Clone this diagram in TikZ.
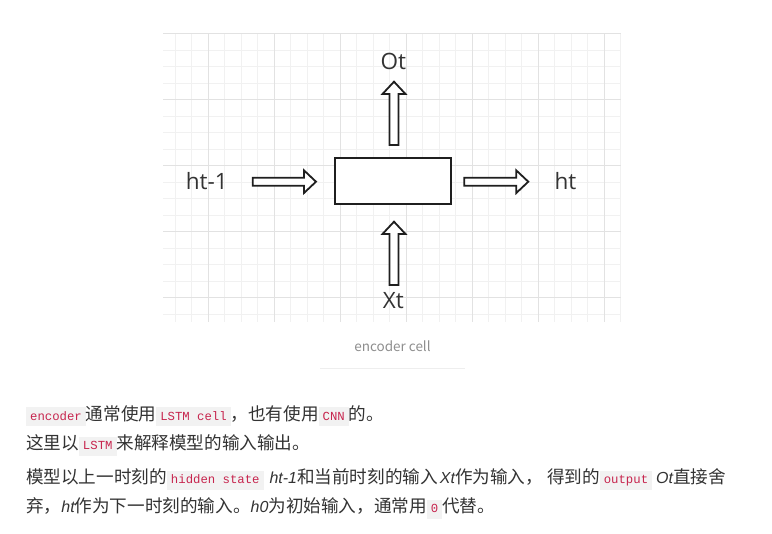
\documentclass[tikz,border=0pt]{standalone}
\usepackage{fontspec}
\setmainfont{Noto Sans CJK SC}
\newfontfamily\labf{Open Sans}
\newfontfamily\itf{Liberation Sans}
\newfontfamily\codef{Liberation Mono}
\usetikzlibrary{calc}
\definecolor{txt}{HTML}{333333}
\definecolor{codefg}{HTML}{C7254E}
\definecolor{codebg}{HTML}{F2F2F2}
\definecolor{gridminor}{HTML}{F1F1F1}
\definecolor{gridmajor}{HTML}{E2E2E2}
\definecolor{capgray}{HTML}{8E8E8E}
\definecolor{sepgray}{HTML}{EEEEEE}
\newcommand\inlinecode[1]{{\setlength\fboxsep{0pt}\colorbox{codebg}{\rule[-6.2pt]{0pt}{19.2pt}\hspace{4pt}\textcolor{codefg}{\codef\fontsize{12.3pt}{14pt}\selectfont #1}\hspace{4pt}}}}
\newcommand\itx[1]{{\itf\itshape\fontsize{16pt}{18pt}\selectfont #1}}
\newcommand\harr[2]{\draw[blockarr] ([yshift=4pt]#1) -- ([xshift=-12pt,yshift=4pt]#2) -- ([xshift=-12pt,yshift=11.3pt]#2) -- (#2) -- ([xshift=-12pt,yshift=-11.3pt]#2) -- ([xshift=-12pt,yshift=-4pt]#2) -- ([yshift=-4pt]#1) -- cycle;}
\newcommand\varr[2]{\draw[blockarr] ([xshift=-4.5pt]#1) -- ([xshift=-4.5pt,yshift=-12.3pt]#2) -- ([xshift=-11.5pt,yshift=-12.3pt]#2) -- (#2) -- ([xshift=11.5pt,yshift=-12.3pt]#2) -- ([xshift=4.5pt,yshift=-12.3pt]#2) -- ([xshift=4.5pt]#1) -- cycle;}
\tikzset{
  blockarr/.style={draw=black!88, line width=1.8pt, fill=white, line join=miter},
  cellbox/.style={draw=black!88, line width=1.9pt, fill=white, minimum width=116pt, minimum height=46.6pt, inner sep=0pt},
  lab/.style={font=\labf\fontsize{22.5pt}{25pt}\selectfont, text=txt, inner sep=0pt},
  txtline/.style={anchor=base west, inner sep=0pt, text=txt, font=\fontsize{17.6pt}{20pt}\selectfont},
  minorline/.style={draw=gridminor, line width=1pt},
  majorline/.style={draw=gridmajor, line width=1pt},
}
\begin{document}
\begin{tikzpicture}[x=1pt,y=-1pt]
\useasboundingbox (0,0) rectangle (772,534);
\fill[white] (0,0) rectangle (772,534);
% grid
\begin{scope}
\clip (163,34) rectangle (621,322);
\foreach \k in {-2,...,25} { \draw[minorline] ({208.3+16.5*\k},34) -- ++(0,288); }
\foreach \k in {-4,...,13} { \draw[minorline] (163,{100+16.5*\k}) -- ++(458,0); }
\foreach \k in {0,...,6} { \draw[majorline] ({208.3+66*\k},34) -- ++(0,288); }
\foreach \k in {-1,...,3} { \draw[majorline] (163,{100+66*\k}) -- ++(458,0); }
\end{scope}
% cell
\node[cellbox] (cell) at (393,181) {};
\coordinate (la1) at (252.7,181.7);
\coordinate (la2) at (316,181.7);
\coordinate (ra1) at (464.3,181.7);
\coordinate (ra2) at (528.3,181.7);
\coordinate (ua1) at (394,145);
\coordinate (ua2) at (394,81.7);
\coordinate (da1) at (394,285);
\coordinate (da2) at (394,221.7);
\harr{la1}{la2}
\harr{ra1}{ra2}
\varr{ua1}{ua2}
\varr{da1}{da2}
\node[lab] (ot) at (393.3,61.2) {Ot};
\node[lab] (xt) at (393.3,300.2) {Xt};
\node[lab] (hprev) at (206.7,181.2) {ht-1};
\node[lab] (hnext) at (565.5,181.2) {ht};
% caption
\node[text=capgray, inner sep=0pt, font=\fontsize{13.5pt}{15pt}\selectfont] (cap) at (392.5,346) {encoder cell};
\coordinate (s1) at (320,369);
\coordinate (s2) at (465,369);
\draw[draw=sepgray, line width=1pt] (s1) -- (s2);
% text
\node[txtline] (l1) at (26,420.2) {\inlinecode{encoder}通常使用\inlinecode{LSTM cell}，也有使用\inlinecode{CNN}的。};
\node[txtline] (l2) at (26,449.7) {这里以\inlinecode{LSTM}来解释模型的输入输出。};
\node[txtline] (l3) at (26,483.7) {模型以上一时刻的\inlinecode{hidden state}\hspace{6pt}\itx{ht-1}和当前时刻的输入\hspace{2pt}\itx{Xt}作为输入，\hspace{4pt}得到的\inlinecode{output}\hspace{4pt}\itx{Ot}直接舍};
\node[txtline] (l4) at (26,512.7) {弃，\itx{ht}作为下一时刻的输入。\itx{h0}为初始输入，通常用\inlinecode{0}代替。};
\end{tikzpicture}
\end{document}
